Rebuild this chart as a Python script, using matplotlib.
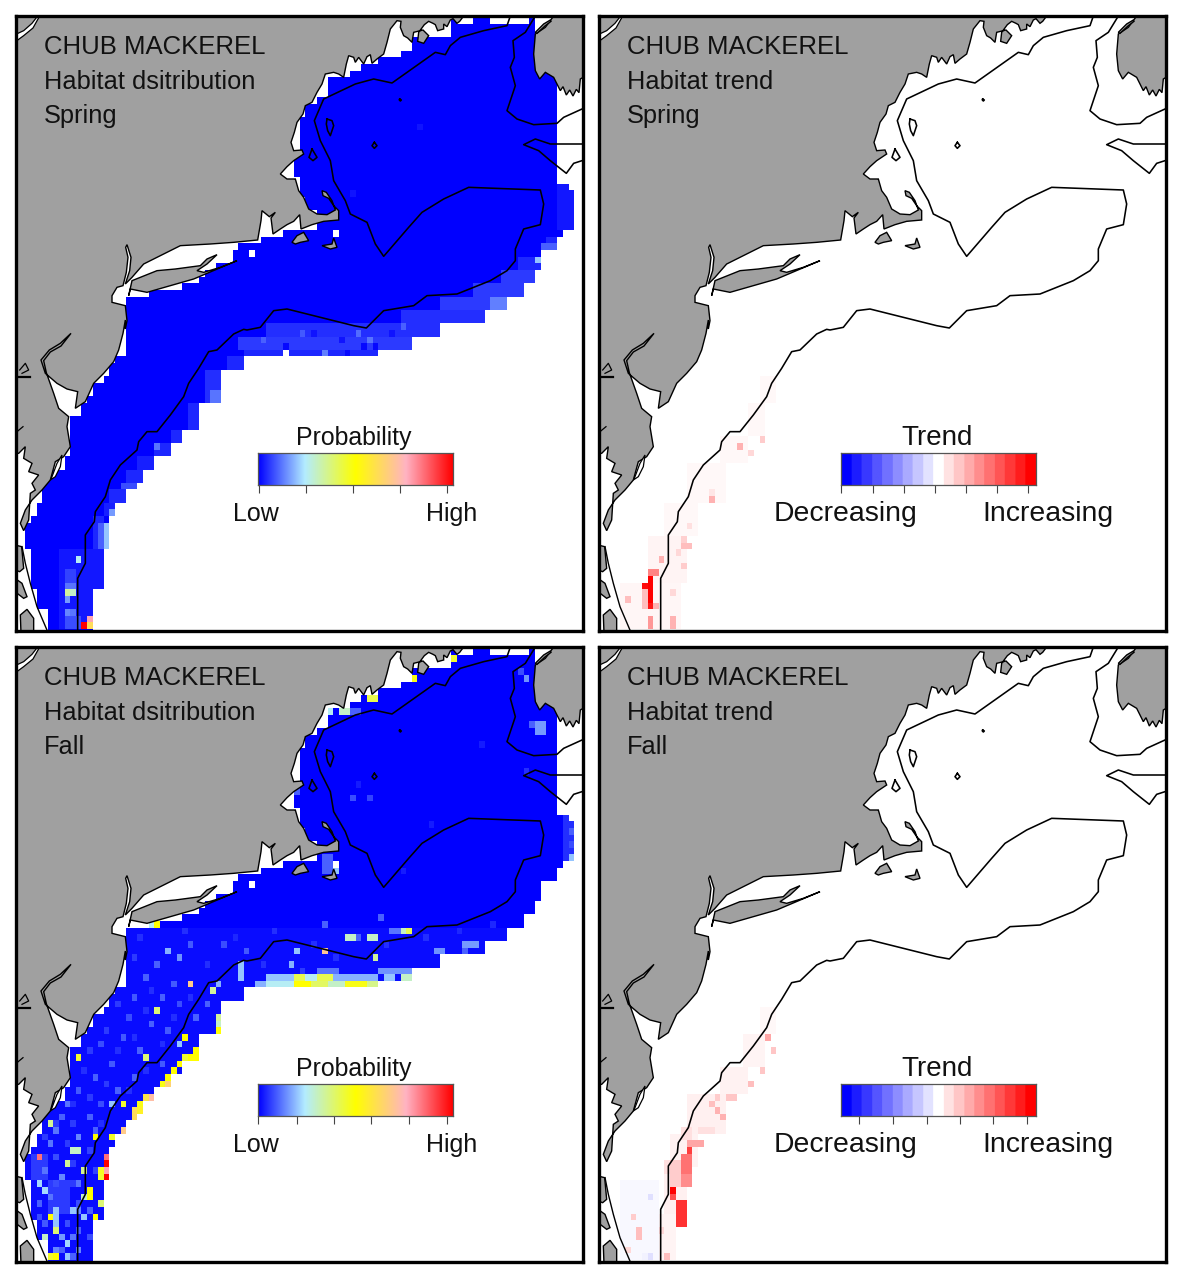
"""Chub mackerel habitat distribution and trend maps, spring and fall."""

import numpy as np
import matplotlib
matplotlib.use("Agg")
import matplotlib.pyplot as plt
from matplotlib.colors import LinearSegmentedColormap
from matplotlib.patches import Polygon

plt.rcParams["font.family"] = ["Liberation Sans", "DejaVu Sans"]

WIDTH, HEIGHT = 1182, 1279
CELL_W, CELL_H = 5.6, 6.65
GRID_U0, GRID_V0 = 3.8, 1.3
N_COLS, N_ROWS = 101, 93

# survey strata: (first row, last row, first col or last col + 1)
LEFT_EDGE = [(0, 2, 77), (3, 4, 70), (5, 5, 68), (6, 6, 64), (7, 7, 61), (8, 8, 59),
             (9, 11, 55), (12, 12, 53), (13, 14, 51), (15, 20, 50), (21, 23, 49),
             (24, 26, 50), (27, 28, 51), (29, 31, 53), (32, 32, 47), (33, 33, 43),
             (34, 34, 39), (35, 36, 38), (37, 37, 35), (38, 38, 33), (39, 39, 32),
             (40, 40, 29), (41, 41, 23), (42, 50, 19), (51, 51, 17), (52, 53, 16),
             (54, 54, 15), (55, 56, 13), (57, 57, 12), (58, 59, 11), (60, 65, 9),
             (66, 67, 8), (68, 69, 5), (70, 72, 4), (73, 74, 3), (75, 75, 2),
             (76, 79, 1), (80, 85, 2), (86, 88, 3), (89, 92, 5)]
RIGHT_EDGE = [(0, 0, 92), (1, 5, 92), (6, 24, 96), (25, 25, 98), (26, 31, 99), (32, 32, 97),
              (33, 34, 96), (35, 37, 93), (38, 39, 92), (40, 41, 90), (42, 43, 87),
              (44, 45, 83), (46, 47, 75), (48, 49, 70), (50, 50, 64), (51, 52, 40),
              (53, 57, 36), (58, 61, 32), (62, 63, 29), (64, 65, 27), (66, 67, 24),
              (68, 69, 22), (70, 70, 21), (71, 72, 19), (73, 74, 17), (75, 79, 16),
              (80, 85, 15), (86, 92, 13)]
HOLES = [(78, 0), (79, 0), (80, 0), (84, 0), (85, 0), (86, 0), (87, 0), (88, 0), (89, 0), (90, 0),
         (41, 35), (56, 32)]
SPRING_HOLES = [(47, 50)]

# (first row, last row, first col, last col, value)
SPRING_BANDS = [(33, 34, 94, 95, .04), (34, 34, 93, 95, .1), (36, 37, 89, 92, .04),
                (38, 39, 86, 91, .06), (40, 41, 81, 89, .06), (42, 43, 75, 86, .06),
                (42, 43, 84, 86, .13), (44, 45, 68, 82, .05), (25, 31, 96, 98, .025),
                (46, 47, 44, 74, .05), (48, 49, 39, 69, .06), (50, 50, 40, 63, .04),
                (51, 52, 37, 39, .04), (53, 57, 33, 35, .05), (56, 57, 34, 35, .12),
                (58, 61, 30, 31, .04), (62, 63, 27, 28, .04), (64, 65, 24, 26, .04),
                (66, 67, 21, 23, .035), (68, 69, 19, 21, .04), (70, 70, 18, 20, .08),
                (71, 72, 16, 18, .04), (73, 74, 15, 16, .035), (75, 79, 13, 14, .04),
                (76, 79, 15, 15, .2), (76, 79, 14, 14, .1), (80, 91, 7, 14, .025),
                (83, 84, 8, 9, .07), (90, 91, 8, 10, .08)]
# (col, row, value)
SPRING_CELLS = [(92, 36, .2), (54, 50, .13), (24, 64, .12), (16, 74, .16), (17, 74, .16),
                (10, 81, .25), (8, 85, .12), (9, 85, .12), (8, 86, .34), (9, 86, .3), (8, 87, .16),
                (8, 89, .14), (9, 89, .12), (12, 90, .78), (11, 91, 1.0), (12, 91, .62),
                (60, 47, .11), (62, 48, .12), (68, 46, .1), (50, 47, .09), (43, 48, .1),
                (47, 49, .01), (58, 50, .01), (61, 49, .01), (63, 49, .01), (52, 47, .02),
                (57, 48, .02), (66, 47, .02), (71, 16, .02), (59, 26, .02)]

FALL_BANDS = [(42, 92, 1, 96, .012), (76, 79, 2, 4, .06), (80, 84, 5, 8, .06), (84, 87, 6, 6, .2),
              (49, 49, 44, 48, .2), (49, 49, 49, 50, .42), (49, 49, 51, 52, .25),
              (49, 49, 53, 55, .42), (49, 49, 56, 63, .18), (49, 49, 65, 66, .2),
              (49, 49, 68, 69, .3), (50, 50, 42, 43, .18), (50, 50, 44, 48, .25),
              (50, 50, 49, 51, .5), (50, 50, 52, 54, .4), (50, 50, 55, 57, .3),
              (50, 50, 58, 62, .48), (50, 50, 62, 63, .36), (48, 48, 53, 56, .12),
              (48, 48, 64, 69, .15), (31, 33, 54, 55, .1), (32, 33, 56, 56, .2),
              (47, 49, 39, 39, .2), (25, 31, 97, 98, .05), (44, 44, 79, 81, .16)]
FALL_CELLS = [(30, 50, .68), (34, 51, .34), (35, 50, .18), (24, 54, .38), (29, 58, .5),
              (28, 59, .2), (35, 57, .5), (36, 57, .5), (33, 58, .5), (34, 58, .5), (35, 58, .72),
              (36, 58, .85), (35, 55, .34), (35, 56, .3), (32, 59, .45), (31, 60, .5), (30, 61, .5),
              (31, 61, .5), (29, 61, .45), (28, 62, .5), (27, 63, .5), (26, 64, .5), (25, 65, .48),
              (26, 65, .65), (23, 67, .72), (22, 67, .6), (21, 68, .48), (20, 69, .62), (20, 70, .62),
              (21, 69, .55), (19, 71, .5), (18, 72, .68), (19, 72, .68), (17, 74, .47), (16, 73, .46),
              (17, 73, .46), (13, 73, .5), (22, 61, .38), (18, 68, .45), (16, 68, .2), (10, 61, .45),
              (5, 71, .35), (3, 76, .85), (8, 77, .35), (9, 75, .3), (10, 75, .3), (15, 76, .85),
              (15, 77, 1.0), (15, 78, .78), (14, 78, .47), (15, 79, 1.0), (14, 79, .45), (11, 78, .35),
              (12, 81, .5), (12, 82, .5), (11, 82, .3), (13, 85, .5), (13, 86, .5), (14, 83, .38),
              (3, 80, .22), (4, 81, .22), (5, 85, .5), (6, 87, .38), (4, 88, .3), (6, 91, .5),
              (5, 91, .45), (8, 89, .22), (8, 91, .2), (11, 85, .2), (18, 50, .2), (24, 41, .5),
              (23, 41, .25), (26, 45, .18), (28, 46, .15), (18, 49, .2), (54, 41, .1), (54, 45, .7),
              (49, 45, .2), (48, 47, .18), (58, 43, .3), (59, 43, .3), (62, 43, .3), (63, 43, .3),
              (64, 40, .1), (68, 42, .3), (69, 42, .42), (66, 42, .12), (67, 42, .12), (63, 46, .34),
              (60, 43, .1), (70, 4, .48), (62, 7, .42), (63, 7, .42), (77, 1, .45), (57, 9, .3),
              (58, 9, .3), (55, 9, .25), (59, 9, .1), (60, 9, .1), (54, 10, .1), (92, 11, .16),
              (93, 11, .16), (92, 12, .16), (93, 12, .16), (91, 11, .1), (90, 4, .15), (89, 3, .08),
              (48, 31, .2), (49, 21, .1), (59, 22, .08), (62, 22, .07), (98, 27, .1), (98, 29, .08),
              (98, 31, .2), (97, 25, .05), (74, 45, .15), (75, 45, .15), (79, 45, .1), (90, 18, .05),
              (24, 47, .1), (30, 44, .09), (36, 44, .08), (40, 45, .09), (22, 49, .1), (27, 50, .09),
              (20, 52, .09), (25, 52, .1), (28, 53, .08), (33, 53, .1), (19, 55, .08), (23, 56, .1),
              (26, 57, .09), (31, 55, .1), (18, 58, .09), (14, 59, .08), (21, 60, .1), (16, 62, .09),
              (25, 62, .09), (13, 64, .1), (20, 64, .1), (10, 66, .09), (17, 66, .1), (8, 68, .12),
              (14, 68, .08), (7, 70, .1), (12, 70, .1), (6, 72, .12), (10, 73, .14), (13, 72, .1),
              (5, 74, .12), (4, 78, .12), (7, 79, .14), (10, 80, .12), (3, 83, .1), (5, 82, .12),
              (9, 84, .2), (10, 84, .14), (7, 88, .16), (9, 88, .12), (6, 90, .14), (10, 90, .14),
              (21, 43, .05), (29, 42, .05), (38, 43, .04), (45, 42, .05), (52, 44, .05), (56, 46, .05),
              (65, 44, .05), (72, 43, .05), (78, 42, .04), (84, 41, .04), (20, 46, .06), (33, 47, .05),
              (43, 47, .05), (50, 48, .06), (23, 51, .05), (30, 52, .05), (17, 53, .06), (22, 54, .05),
              (27, 55, .05), (15, 57, .06), (20, 58, .05), (25, 59, .05), (12, 60, .06), (17, 60, .05),
              (22, 63, .05), (11, 63, .05), (15, 65, .06), (19, 66, .05), (9, 68, .05), (12, 67, .06),
              (6, 71, .06), (9, 71, .06), (14, 71, .05), (4, 73, .06), (8, 74, .06), (12, 75, .07),
              (6, 76, .08), (9, 77, .06), (13, 78, .07), (6, 80, .08), (3, 85, .08), (9, 80, .06),
              (10, 83, .08), (12, 84, .1), (4, 86, .09), (8, 86, .08), (10, 87, .1), (12, 88, .08),
              (7, 90, .1), (9, 91, .1), (68, 33, .03), (60, 20, .03), (73, 26, .03), (82, 14, .03)]

TREND_SPRING_BANDS = [(54, 57, 28, 30, .03), (58, 62, 26, 28, .03), (63, 66, 21, 25, .03),
                      (67, 72, 15, 21, .03), (73, 77, 11, 16, .03), (78, 84, 8, 14, .04),
                      (85, 91, 3, 13, .035), (84, 87, 8, 8, 1.0), (85, 86, 7, 7, .95),
                      (83, 83, 8, 9, .48), (86, 88, 7, 7, .25), (90, 91, 8, 8, .4),
                      (90, 91, 12, 12, .3)]
TREND_SPRING_CELLS = [(8, 88, .9), (9, 88, .3), (4, 87, .25), (12, 86, .15), (14, 82, .2),
                      (14, 79, .25), (15, 79, .25), (14, 78, .18), (13, 80, .15), (15, 76, .12),
                      (10, 81, .3), (19, 71, .1), (19, 72, .3), (24, 64, .3), (26, 65, .15),
                      (28, 63, .2)]

TREND_FALL_BANDS = [(54, 57, 28, 30, .03), (58, 62, 25, 28, .04), (63, 66, 21, 25, .05),
                    (67, 72, 15, 21, .06), (73, 77, 12, 16, .05), (78, 84, 11, 14, .06),
                    (85, 91, 10, 12, .04), (80, 91, 3, 9, -.03), (83, 86, 13, 14, .8),
                    (76, 79, 14, 15, .55), (79, 80, 13, 15, .45), (77, 80, 12, 13, .2),
                    (74, 74, 15, 17, .35), (81, 81, 12, 12, 1.0), (82, 82, 12, 12, .7),
                    (87, 88, 6, 6, .25), (77, 78, 11, 11, .12), (72, 72, 17, 19, .12),
                    (72, 73, 14, 15, .12)]
TREND_FALL_CELLS = [(15, 75, .75), (29, 58, .35), (30, 60, .22), (28, 63, .22), (26, 65, .25),
                    (22, 67, .22), (23, 67, .22), (20, 69, .3), (21, 70, .3), (19, 68, .25),
                    (20, 67, .2), (5, 85, .2), (4, 90, .15), (11, 91, .25), (10, 87, .15),
                    (8, 82, -.12), (8, 91, -.12), (7, 91, -.05)]

PROB_TICKS_SPRING = [258.8, 305.8, 352.9, 400, 447]
PROB_TICKS_FALL = [258, 296.7, 334, 371, 409, 446.7]
TREND_TICKS_SPRING = [841, 872.7, 904, 935.3, 966, 997, 1028.3]
TREND_TICKS_FALL = [859.3, 893.3, 926.7, 960, 993.3, 1026.7]

Z7, Z8, Z9 = (600, 14), (870, 14), (600, 320)
COAST_MAINE = [(530, 6), (518, 22), (510, 28), (498, 14), (490, 18), (480, 38), (470, 30), (470, 45),
               (452, 50), (445, 32), (438, 28), (425, 22), (412, 32), (395, 55),
               (392, 82), (410, 88), (425, 65), (408, 48), (380, 55), (375, 85), (362, 72), (350, 65),
               (340, 40), (342, 22), (330, 20), (310, 45), (300, 85), (290, 120), (270, 135),
               (255, 148), (250, 122), (240, 128), (230, 150), (215, 130), (205, 145), (200, 130),
               (185, 125), (178, 150), (170, 190), (155, 180), (140, 175), (115, 180), (105, 210),
               (90, 235), (75, 265), (55, 275), (48, 300), (30, 325),
               (22, 355), (12, 385), (20, 410), (45, 408), (50, 420), (20, 440), (0, 458)]
COAST_BOSTON = [(790, 480), (810, 495), (835, 495)]
COAST_CAPE = [(25, 495), (35, 530), (50, 550), (65, 585), (90, 600), (120, 602), (145, 588),
              (135, 560), (118, 535), (105, 530), (108, 545), (125, 553), (140, 575), (155, 590),
              (155, 618), (110, 622), (75, 632), (42, 645), (38, 602), (20, 622), (0, 632)]
COAST_SOUND = [(790, 645), (768, 660), (762, 612), (775, 595), (757, 608), (735, 590), (732, 620),
               (722, 678), (650, 685), (580, 690), (490, 695), (440, 720), (380, 750), (345, 790),
               (325, 810), (338, 770), (342, 730), (330, 692), (326, 700), (333, 730), (328, 775),
               (318, 815), (300, 820), (285, 845), (285, 865), (325, 875), (330, 920), (325, 945)]
COAST_DELMARVA = [(325, 0), (318, 40), (305, 90), (290, 125), (260, 160), (230, 190), (205, 245),
                  (175, 265), (182, 215), (150, 207), (120, 190), (85, 160), (72, 120), (97, 90),
                  (130, 70), (162, 40), (132, 78), (100, 96), (80, 122), (88, 158), (110, 220),
                  (125, 265), (155, 290), (150, 320), (155, 350), (160, 380), (140, 410), (115, 425),
                  (100, 480), (75, 510), (45, 540), (25, 570), (10, 610), (20, 632), (35, 600),
                  (40, 520), (55, 510), (45, 490), (65, 465), (35, 455), (45, 430), (20, 415),
                  (25, 380), (5, 400), (-10, 400)]
LONG_ISLAND = [(335, 845), (340, 825), (390, 835), (530, 795), (660, 740), (610, 760), (560, 775),
               (540, 770), (570, 750), (600, 722), (570, 735), (550, 755), (475, 765), (420, 770),
               (370, 790), (345, 800)]
VINEYARD = [(15, 685), (30, 665), (50, 655), (65, 680), (40, 685), (25, 690)]
NANTUCKET = [(105, 695), (135, 690), (140, 672), (150, 700), (130, 705)]
NOVA_SCOTIA = [(905, 0), (800, 6), (775, 40), (745, 60), (740, 120), (745, 170), (758, 195), (775, 175),
               (800, 190), (820, 230), (828, 218), (838, 243), (848, 228), (858, 246), (868, 226),
               (876, 236), (880, 195), (905, 180)]
FUNDY_SLIVER = [(790, 18), (770, 30), (745, 55), (750, 58), (775, 35), (792, 22)]
VA_NORTH = [(-6, 675), (14, 680), (20, 745), (8, 755), (-6, 750)]
VA_MID = [(-6, 775), (15, 790), (30, 830), (20, 835), (-6, 815)]
VA_SOUTH = [(12, 940), (10, 885), (30, 868), (50, 895), (50, 940)]
BARRIER = [(15, 680), (25, 730), (40, 790), (60, 860), (92, 935)]
CHINCOTEAGUE = [(135, 405), (120, 430), (105, 470), (100, 480), (115, 470), (130, 440)]
TOP_LAKE = [(-6, 62), (20, 50), (45, 28), (62, 6), (68, 6), (48, 42), (20, 65), (-6, 84)]
RIVER_MARK_A = [(0, 172), (38, 172)]
RIVER_MARK_B = [(8, 150), (25, 130), (35, 150), (15, 160)]
INLET_MARK = [(0, 335), (18, 320)]

# bathymetry contours
SHELF_Z8 = [(670, 6), (660, 35), (590, 50), (520, 70), (490, 95), (475, 122), (445, 115), (315, 207),
            (260, 195), (205, 210), (110, 255), (82, 320), (100, 380), (130, 440), (140, 500), (175, 560),
            (190, 600), (240, 625), (265, 690), (290, 727), (365, 640), (405, 595), (470, 555), (545, 520),
            (760, 528), (770, 570), (760, 632), (710, 645), (685, 705), (685, 740), (660, 770), (610, 800),
            (510, 840), (420, 845), (380, 875), (290, 890), (238, 942), (200, 935), (100, 910), (40, 895),
            (0, 885)]
SHELF_Z7 = [(770, 890), (730, 940), (690, 948)]
SHELF_Z9 = [(680, 28), (650, 42), (600, 90), (575, 95), (545, 145), (515, 190), (500, 230), (460, 285),
            (420, 335), (390, 335), (365, 365), (360, 390), (310, 435), (280, 480), (265, 530), (235, 575),
            (232, 605), (205, 645), (205, 730), (182, 775), (182, 940)]
CHANNEL_A = [(745, 6), (715, 55), (678, 80), (682, 130), (670, 160), (685, 215), (660, 290), (690, 315),
             (740, 332), (810, 328), (830, 310), (885, 285)]
CHANNEL_B = [(885, 390), (790, 390), (745, 375), (710, 392), (755, 410), (790, 440), (838, 478),
             (860, 448), (885, 440)]
LEDGE_A = [(120, 315), (135, 320), (140, 335), (130, 365), (122, 350), (118, 330), (120, 315)]
LEDGE_B = [(75, 405), (90, 430), (78, 440), (66, 430), (75, 405)]
LEDGE_C = [(262, 385), (270, 395), (262, 403), (255, 395), (262, 385)]
LEDGE_D = [(338, 255), (343, 258), (340, 261), (337, 258), (338, 255)]

PROB_CMAP = LinearSegmentedColormap.from_list(
    "prob", [(0, "#0000ff"), (.24, "#b3ecff"), (.5, "#ffff00"), (.76, "#ffb3c3"), (1, "#ff0000")])
TREND_CMAP = LinearSegmentedColormap.from_list("trend", ["#0000ff", "#ffffff", "#ff0000"], N=256)
TREND_STEPS = LinearSegmentedColormap.from_list("steps", ["#0000ff", "#ffffff", "#ff0000"], N=19)


def crop(pts, origin):
    return [(origin[0] + x / 3 - 599, origin[1] + y / 3 - 16) for x, y in pts]


def base_region():
    left = np.zeros(N_ROWS, dtype=int)
    right = np.zeros(N_ROWS, dtype=int)
    for r0, r1, c in LEFT_EDGE:
        left[r0:r1 + 1] = c
    for r0, r1, c in RIGHT_EDGE:
        right[r0:r1 + 1] = c
    grid = np.full((N_ROWS, N_COLS), np.nan)
    for r in range(N_ROWS):
        grid[r, left[r]:right[r]] = 0
    for c, r in HOLES:
        grid[r, c] = np.nan
    return grid


def fill_prob(bands, cells, holes=()):
    grid = base_region()
    for r0, r1, c0, c1, v in bands:
        part = grid[r0:r1 + 1, c0:c1 + 1]
        part[~np.isnan(part)] = v
    for c, r, v in cells:
        if not np.isnan(grid[r, c]):
            grid[r, c] = v
    for c, r in holes:
        grid[r, c] = np.nan
    return grid


def fill_trend(bands, cells):
    grid = np.full((N_ROWS, N_COLS), np.nan)
    for r0, r1, c0, c1, v in bands:
        grid[r0:r1 + 1, c0:c1 + 1] = v
    for c, r, v in cells:
        grid[r, c] = v
    return grid


def draw_map(ax, grid, cmap, vmin, vmax, lines):
    xe = GRID_U0 + CELL_W * np.arange(N_COLS + 1)
    ye = GRID_V0 + CELL_H * np.arange(N_ROWS + 1)
    ax.pcolormesh(xe, ye, np.ma.masked_invalid(grid), cmap=cmap, vmin=vmin, vmax=vmax, zorder=1)

    land = ([(-6, -6)] + crop(COAST_MAINE, Z8) + crop(COAST_BOSTON, Z7) + crop(COAST_CAPE, Z8)
            + crop(COAST_SOUND, Z7) + crop(COAST_DELMARVA, Z9))
    polys = [land, crop(LONG_ISLAND, Z7), crop(VINEYARD, Z8), crop(NANTUCKET, Z8),
             crop(NOVA_SCOTIA, Z8), crop(FUNDY_SLIVER, Z8), crop(VA_NORTH, Z9),
             crop(VA_MID, Z9), crop(VA_SOUTH, Z9)]
    for pts in polys:
        ax.add_patch(Polygon(pts, closed=True, facecolor="#a0a0a0", edgecolor="black",
                             linewidth=1.0, zorder=2))
    for pts in (crop(CHINCOTEAGUE, Z9), crop(TOP_LAKE, Z7)):
        ax.add_patch(Polygon(pts, closed=True, facecolor="white", edgecolor="black",
                             linewidth=0.9, zorder=3))
    for pts, lw in ((crop(BARRIER, Z9), 1.0), (crop(RIVER_MARK_A, Z9), 1.6), (crop(RIVER_MARK_B, Z9), 0.9),
                    (crop(INLET_MARK, Z9), 0.9)):
        ax.plot(*zip(*pts), color="black", lw=lw, zorder=3)

    shelf = crop(SHELF_Z8, Z8) + crop(SHELF_Z7, Z7) + crop(SHELF_Z9, Z9)
    for pts in (shelf, crop(CHANNEL_A, Z8), crop(CHANNEL_B, Z8), crop(LEDGE_A, Z8), crop(LEDGE_B, Z8),
                crop(LEDGE_C, Z8), crop(LEDGE_D, Z8)):
        ax.plot(*zip(*pts), color="black", lw=1.15, zorder=4)

    for y, line in zip((31, 66, 100), lines):
        ax.text(28, y, line, fontsize=18.5 if y == 31 else 18.3, va="center", ha="left",
                color="#111111", zorder=5)


def add_panel(fig, x, y, grid, cmap, vmin, vmax, lines):
    ax = fig.add_axes([x / WIDTH, 1 - (y + 615) / HEIGHT, 567 / WIDTH, 615 / HEIGHT])
    ax.set_xlim(0, 567)
    ax.set_ylim(615, 0)
    ax.set_xticks([])
    ax.set_yticks([])
    for s in ax.spines.values():
        s.set_linewidth(2.4)
        s.set_zorder(10)
    draw_map(ax, grid, cmap, vmin, vmax, lines)
    return ax


def add_legend(fig, x0, x1, y0, cmap, ticks, title, low, high, label_size, title_size, low_x, high_x):
    ax = fig.add_axes([x0 / WIDTH, 1 - (y0 + 32) / HEIGHT, (x1 - x0) / WIDTH, 32 / HEIGHT])
    ax.imshow(np.linspace(0, 1, 256)[None, :], cmap=cmap, aspect="auto", extent=(x0, x1, 0, 1))
    ax.set_xlim(x0, x1)
    ax.set_yticks([])
    ax.set_xticks(ticks)
    ax.tick_params(axis="x", length=5.8, width=0.8, color="#444444", labelbottom=False)
    for s in ax.spines.values():
        s.set_color("#555555")
        s.set_linewidth(0.9)
    cx = (x0 + x1) / 2 - 1.5
    fig.text(cx / WIDTH, 1 - (y0 - 15) / HEIGHT, title, fontsize=title_size, ha="center", va="center",
             color="#111111")
    for tx, txt in ((low_x, low), (high_x, high)):
        fig.text(tx / WIDTH, 1 - (y0 + 61) / HEIGHT, txt, fontsize=label_size, ha="center", va="center",
                 color="#111111")


def main():
    fig = plt.figure(figsize=(WIDTH / 100, HEIGHT / 100), dpi=100)

    spring = fill_prob(SPRING_BANDS, SPRING_CELLS, SPRING_HOLES)
    fall = fill_prob(FALL_BANDS, FALL_CELLS)
    trend_spring = fill_trend(TREND_SPRING_BANDS, TREND_SPRING_CELLS)
    trend_fall = fill_trend(TREND_FALL_BANDS, TREND_FALL_CELLS)

    add_panel(fig, 16, 16, spring, PROB_CMAP, 0, 1,
              ["CHUB MACKEREL", "Habitat dsitribution", "Spring"])
    add_panel(fig, 599, 16, trend_spring, TREND_CMAP, -1, 1,
              ["CHUB MACKEREL", "Habitat trend", "Spring"])
    add_panel(fig, 16, 647, fall, PROB_CMAP, 0, 1,
              ["CHUB MACKEREL", "Habitat dsitribution", "Fall"])
    add_panel(fig, 599, 647, trend_fall, TREND_CMAP, -1, 1,
              ["CHUB MACKEREL", "Habitat trend", "Fall"])

    add_legend(fig, 258, 453, 453, PROB_CMAP, PROB_TICKS_SPRING, "Probability", "Low", "High",
               18, 17.9, 256, 452)
    add_legend(fig, 258, 453, 1084, PROB_CMAP, PROB_TICKS_FALL, "Probability", "Low", "High",
               18, 17.9, 256, 452)
    add_legend(fig, 841, 1036, 453, TREND_STEPS, TREND_TICKS_SPRING, "Trend", "Decreasing", "Increasing",
               20.4, 20, 845.5, 1048)
    add_legend(fig, 841, 1036, 1084, TREND_STEPS, TREND_TICKS_FALL, "Trend", "Decreasing", "Increasing",
               20.4, 20, 845.5, 1048)

    fig.savefig("out.png", dpi=100, facecolor="white")


if __name__ == "__main__":
    main()
